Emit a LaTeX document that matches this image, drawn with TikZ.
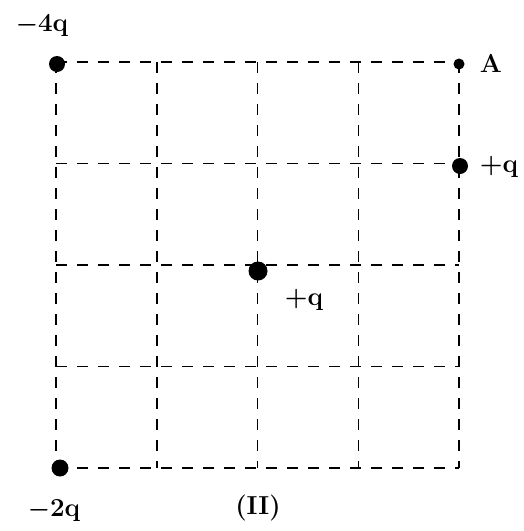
\documentclass[tikz,border=0pt]{standalone}
\usepackage{fontspec}
\begin{document}
\begin{tikzpicture}[x=1pt,y=-1pt,
  gridline/.style={line width=1.5pt,dash pattern=on 11pt off 10pt},
  charge/.style={circle,fill=black,inner sep=0pt,minimum size=16pt},
  lbl/.style={font=\fontsize{26}{30}\selectfont\bfseries\boldmath,inner sep=0pt}]
\useasboundingbox (0,0) rectangle (524,531);
% grid
\foreach \i in {0,...,4}{
  \draw[gridline] ({56+100.75*\i},62) -- ({56+100.75*\i},468);
  \draw[gridline] (56,{62+101.5*\i}) -- (459,{62+101.5*\i});
}
\node[charge] (q1) at (57,64) {};
\node[charge,minimum size=11pt] (a) at (459,64) {};
\node[charge] (q2) at (460,166) {};
\node[charge,minimum size=19pt] (q3) at (258,271) {};
\node[charge,minimum size=17pt] (q4) at (60,468) {};
\node[lbl] (l1) at (42,25) {$-$4q};
\node[lbl] (la) at (491,63) {A};
\node[lbl] (l2) at (499,167) {+q};
\node[lbl] (l3) at (304,300) {+q};
\node[lbl] (l4) at (54,510) {$-$2q};
\node[lbl] (l5) at (258,508) {(II)};
\end{tikzpicture}
\end{document}
